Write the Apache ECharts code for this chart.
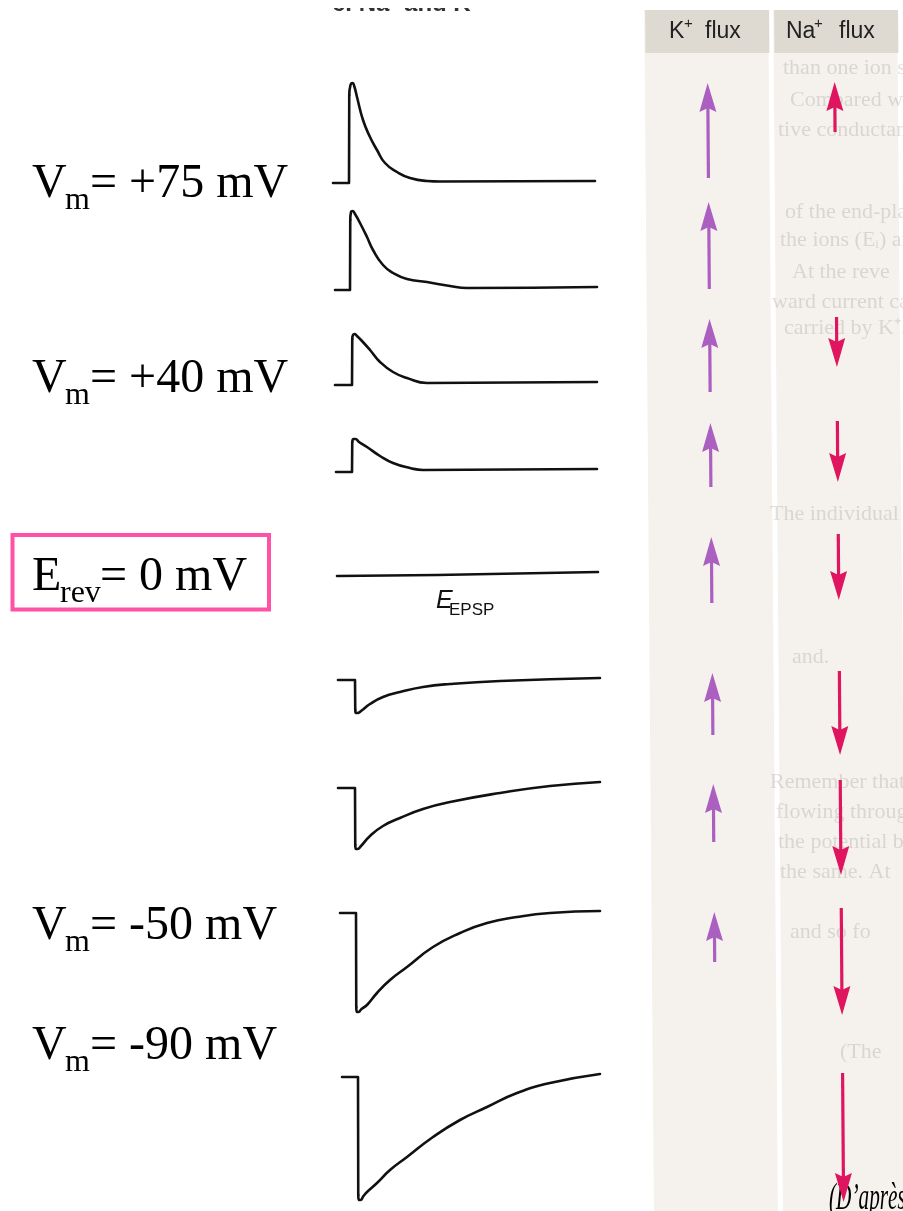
<!DOCTYPE html>
<html>
<head>
<meta charset="utf-8">
<script src="https://cdn.jsdelivr.net/npm/echarts@6/dist/echarts.min.js"></script>
<style>
  html, body { margin: 0; padding: 0; background: #ffffff; }
  #chart { width: 903px; height: 1211px; }
</style>
</head>
<body>
<div id="chart"></div>
<script>
// Synaptic potentials recorded at different holding potentials.
// Each trace: [time (ms), deflection from holding level (mV, scaled)].
// The first three points are the holding level and the onset of the step.
const tracePlus75 = [[0,0],[3.2,0],[3.25,8.8],[3.5,9.8],[3.9,10],[4.3,9.6],[4.8,8.6],[6.0,6.3],[7.4,4.6],[8.8,3.3],[10.4,2.0],[12.8,1.1],[15.4,0.5],[18.8,0.2],[21.4,0.15],[52.4,0.2]];
const tracePlus60 = [[0,0],[3.0,0],[3.05,7.0],[3.2,7.8],[3.5,7.9],[4.0,7.6],[5.0,6.7],[6.4,5.3],[7.6,4.0],[9.6,2.5],[11.6,1.7],[14.4,1.1],[18.4,0.8],[23,0.4],[26.4,0.2],[52.4,0.3]];
const tracePlus40 = [[0,0],[3.4,0],[3.45,4.6],[3.6,5.0],[3.9,5.1],[4.4,4.9],[5.4,4.4],[7,3.5],[9,2.3],[11.6,1.3],[14.4,0.7],[18.4,0.2],[52.4,0.3]];
const tracePlus20 = [[0,0],[3.2,0],[3.25,3.0],[3.5,3.3],[3.9,3.3],[4.6,3.0],[6.2,2.5],[8.8,1.6],[11.4,0.9],[14.8,0.4],[17.4,0.2],[52.2,0.3]];
const traceRev    = [[0,0],[20,0.1],[52.2,0.4]];
const traceMinus10 = [[0,0],[3.4,0],[3.45,-3.0],[3.6,-3.3],[3.9,-3.3],[4.6,-3.1],[6.4,-2.4],[9,-1.7],[12.4,-1.2],[17,-0.7],[22.4,-0.4],[32.4,-0.1],[52.4,0.2]];
const traceMinus30 = [[0,0],[3.4,0],[3.45,-5.7],[3.6,-6.1],[3.9,-6.1],[4.6,-5.8],[6.4,-4.8],[9,-3.8],[12.4,-3.0],[17,-2.1],[22.4,-1.4],[32.4,-0.5],[42.4,0.2],[52.4,0.6]];
const traceMinus50 = [[0,0],[3.2,0],[3.25,-9.4],[3.4,-9.9],[3.7,-9.9],[4.3,-9.6],[5.4,-9.2],[7.4,-8.0],[10,-6.7],[13.4,-5.4],[18.6,-3.4],[24,-2.0],[29.4,-1.0],[35.4,-0.4],[42,0],[52,0.2]];
const traceMinus90 = [[0,0],[3.2,0],[3.25,-11.8],[3.4,-12.3],[3.7,-12.3],[4.3,-11.9],[5,-11.5],[7,-10.6],[9.6,-9.3],[13,-8.0],[18.2,-6.0],[23.6,-4.3],[29,-3.0],[35,-1.6],[41.6,-0.6],[51.6,0.3]];

// Ion flux arrows: [tail level, head level] on the figure's vertical scale.
const kFlux  = [[178,83],[289,202],[392,319],[487,423],[603,537],[735,673],[842,784],[962,912]];
const naFlux = [[132,82],[317,367],[421,482],[534,600],[671,755],[780,875],[908,1015],[1073,1202]];

// Holding-potential labels.
const vmLabels = ['= +75 mV', '= +40 mV', '= -50 mV', '= -90 mV'];
const revLabel = '= 0 mV';
const fluxHeaders = ['K', 'Na'];

// Faint text of the underlying page.
const pageLines = [
  'than one ion spe', 'Compared with', 'tive conductanc', 'of the end-plate',
  'the ions (Eᵢ) and', 'At the reve', 'ward current ca', 'carried by K⁺.',
  'The individual', 'and.', 'Remember that', 'flowing through',
  'the potential b', 'the same. At', 'and so fo', '(The'
];

// ---- layout ----
const traces = [tracePlus75, tracePlus60, tracePlus40, tracePlus20, traceRev,
                traceMinus10, traceMinus30, traceMinus50, traceMinus90];
const rowLayout = [[183,333],[290,335],[385,335],[472,336],[576,337],
                   [680,338],[788,338],[913,340],[1077,342]];
const PX_T = 5, PX_V = 10, HALF = 13, T_MAX = 53;
const labelRows = [184, 379, 926, 1046];
const pageLineLayout = [[783,68],[790,100],[778,130],[785,212],[780,240],[792,272],[772,302],[784,328],
                        [770,514],[792,657],[770,782],[776,812],[778,842],[780,872],[790,932],[840,1052]];
const SKEW = 0.008;

const serif = '"Liberation Serif", "Times New Roman", serif';
const sans  = '"Liberation Sans", Arial, Helvetica, sans-serif';

const chart = echarts.init(document.getElementById('chart'), null, { renderer: 'canvas' });

const grids = rowLayout.map(([base, left]) => ({
  left: left, top: base - HALF * PX_V, width: T_MAX * PX_T, height: 2 * HALF * PX_V
}));
grids.push({ left: 643.5, top: 0, width: 254, height: 1211 });

const xAxes = rowLayout.map((_, i) => ({ type: 'value', gridIndex: i, min: 0, max: T_MAX, show: false }));
xAxes.push({ type: 'category', gridIndex: 9, data: ['K⁺ flux', 'Na⁺ flux'], show: false });
const yAxes = rowLayout.map((_, i) => ({ type: 'value', gridIndex: i, min: -HALF, max: HALF, show: false }));
yAxes.push({ type: 'value', gridIndex: 9, min: 0, max: 1211, inverse: true, show: false });

const traceStyle = { color: '#111111', width: 2.6, cap: 'round', join: 'round' };
const traceSeries = [];
traces.forEach((data, i) => {
  // holding level and the sharp step: straight segments
  traceSeries.push({
    type: 'line', xAxisIndex: i, yAxisIndex: i, data: data.slice(0, 3),
    symbol: 'none', smooth: false, silent: true, lineStyle: traceStyle
  });
  // peak and decay: smoothed
  if (data.length > 3) {
    traceSeries.push({
      type: 'line', xAxisIndex: i, yAxisIndex: i, data: data.slice(2),
      symbol: 'none', smooth: 0.5, silent: true, lineStyle: traceStyle
    });
  }
});

function arrowItem(params, api) {
  const col = api.value(0);
  const a = api.coord([col, api.value(1)]);
  const b = api.coord([col, api.value(2)]);
  const xa = a[0] + a[1] * SKEW, xb = b[0] + b[1] * SKEW;
  const dir = Math.sign(b[1] - a[1]);
  const headLen = 29, headHalf = 8.5;
  const baseY = b[1] - dir * headLen;
  const xBase = xa + (xb - xa) * (baseY - a[1]) / (b[1] - a[1]);
  const color = col === 0 ? '#ab5fc0' : '#e0155f';
  return {
    type: 'group',
    children: [
      { type: 'line', shape: { x1: xa, y1: a[1], x2: xBase, y2: baseY + dir * 4 },
        style: { stroke: color, lineWidth: 3.2 } },
      { type: 'polygon',
        shape: { points: [[xb, b[1]], [xBase - headHalf, baseY], [xBase, baseY + dir * 4], [xBase + headHalf, baseY]] },
        style: { fill: color } }
    ]
  };
}

const arrowData = kFlux.map(f => [0, f[0], f[1]]).concat(naFlux.map(f => [1, f[0], f[1]]));

const graphics = [];
// page columns behind the flux arrows
function skewPoly(x1, x2, y1, y2) {
  return [[x1 + y1 * SKEW, y1], [x2 + y1 * SKEW, y1], [x2 + y2 * SKEW, y2], [x1 + y2 * SKEW, y2]];
}
[[645, 769], [774, 898]].forEach(([x1, x2]) => {
  graphics.push({ type: 'polygon', z: -10, shape: { points: skewPoly(x1 - 0.8, x2 - 0.8, 10, 1211) }, style: { fill: '#f5f2ed' } });
  graphics.push({ type: 'polygon', z: -9, shape: { points: skewPoly(x1, x2, 10, 53) }, style: { fill: '#dedad2' } });
});
pageLines.forEach((t, i) => {
  graphics.push({ type: 'text', z: -8, x: pageLineLayout[i][0], y: pageLineLayout[i][1],
    style: { text: t, font: '22px ' + serif, fill: 'rgba(95,85,75,0.18)', verticalAlign: 'middle' } });
});
// column headers
const hdr = { font: '23px ' + sans, fill: '#222222', verticalAlign: 'middle' };
const hdrSup = { font: '15px ' + sans, fill: '#222222', verticalAlign: 'middle' };
graphics.push({ type: 'text', x: 669, y: 32, style: Object.assign({ text: fluxHeaders[0] }, hdr) });
graphics.push({ type: 'text', x: 684, y: 24, style: Object.assign({ text: '+' }, hdrSup) });
graphics.push({ type: 'text', x: 705, y: 32, style: Object.assign({ text: 'flux' }, hdr) });
graphics.push({ type: 'text', x: 786, y: 32, style: Object.assign({ text: fluxHeaders[1] }, hdr) });
graphics.push({ type: 'text', x: 814, y: 24, style: Object.assign({ text: '+' }, hdrSup) });
graphics.push({ type: 'text', x: 839, y: 32, style: Object.assign({ text: 'flux' }, hdr) });

// holding potential labels
const big = { font: '48px ' + serif, fill: '#000000', verticalAlign: 'middle' };
const sub = { font: '32px ' + serif, fill: '#000000', verticalAlign: 'middle' };
vmLabels.forEach((t, i) => {
  const cy = labelRows[i];
  graphics.push({ type: 'text', x: 32, y: cy, style: Object.assign({ text: 'V' }, big) });
  graphics.push({ type: 'text', x: 65, y: cy + 17, style: Object.assign({ text: 'm' }, sub) });
  graphics.push({ type: 'text', x: 90, y: cy, style: Object.assign({ text: t }, big) });
});
// reversal potential box
graphics.push({ type: 'rect', shape: { x: 12.5, y: 535, width: 256.5, height: 74.5 },
  style: { fill: 'none', stroke: '#ff52a6', lineWidth: 4 } });
graphics.push({ type: 'text', x: 32, y: 577, style: Object.assign({ text: 'E' }, big) });
graphics.push({ type: 'text', x: 60, y: 594, style: Object.assign({ text: 'rev' }, sub) });
graphics.push({ type: 'text', x: 100, y: 577, style: Object.assign({ text: revLabel }, big) });
// E_EPSP marker under the flat trace
graphics.push({ type: 'text', x: 436, y: 601, style: { text: 'E', font: 'italic 25px ' + sans, fill: '#111', verticalAlign: 'middle' } });
graphics.push({ type: 'text', x: 449, y: 610, style: { text: 'EPSP', font: '17px ' + sans, fill: '#111', verticalAlign: 'middle' } });
// caption fragments at the page edges
graphics.push({ type: 'text', x: 332, y: 4, style: { text: 'c. Na⁺ and K⁺', font: 'bold 24px ' + sans, fill: '#333', verticalAlign: 'middle' } });
graphics.push({ type: 'rect', z: 5, shape: { x: 300, y: 0, width: 240, height: 8 }, style: { fill: '#ffffff' } });
graphics.push({ type: 'text', x: 829, y: 1199, scaleX: 0.56,
  style: { text: '(D’après', font: 'italic 38px ' + serif, fill: '#000', verticalAlign: 'middle' } });

chart.setOption({
  animation: false,
  backgroundColor: '#ffffff',
  grid: grids,
  xAxis: xAxes,
  yAxis: yAxes,
  graphic: { elements: graphics },
  series: traceSeries.concat([{
    type: 'custom', xAxisIndex: 9, yAxisIndex: 9, data: arrowData,
    renderItem: arrowItem, silent: true, clip: false
  }])
});
</script>
</body>
</html>
